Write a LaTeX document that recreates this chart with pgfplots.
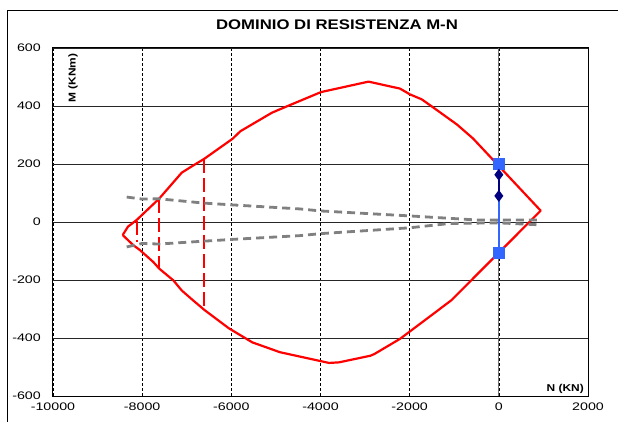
\documentclass[border=0pt]{standalone}
\usepackage{fontspec}
\setmainfont{Liberation Sans}
\newfontfamily\tickf{Liberation Sans}[FakeStretch=1.3]
\newfontfamily\titlef{Liberation Sans}[FakeStretch=1.2]
\newfontfamily\labf{Liberation Sans}[FakeStretch=1.2]
\usepackage{pgfplots}
\pgfplotsset{compat=1.18}
\definecolor{bluel}{RGB}{51,102,255}
\definecolor{navyd}{RGB}{0,0,128}
\definecolor{greyd}{RGB}{128,128,128}

\begin{document}
\begin{tikzpicture}
\useasboundingbox (-53bp,-26bp) rectangle (565bp,396bp);
\begin{axis}[
    scale only axis,
    width=535bp, height=348bp,
    at={(0,0)}, anchor=south west,
    xmin=-10000, xmax=2000,
    ymin=-600, ymax=600,
    xtick={-10000,-8000,...,2000},
    ytick={-600,-400,...,600},
    scaled x ticks=false, scaled y ticks=false,
    major tick length=0pt,
    axis line style={black, line width=1bp},
    xmajorgrids=true, ymajorgrids=true,
    x grid style={black, line width=0.6bp, dash pattern=on 3bp off 2bp},
    y grid style={black!85, line width=0.6bp},
    extra x ticks={0},
    extra x tick labels={},
    extra x tick style={grid=major, x grid style={black!55, line width=1bp, solid}},
    /pgf/number format/.cd, 1000 sep={}, assume math mode=true, /pgfplots/.cd,
    xticklabel style={font=\tickf\fontsize{11}{13}\selectfont, anchor=north, inner sep=0pt, yshift=-7bp},
    yticklabel style={font=\tickf\fontsize{11}{13}\selectfont, anchor=east, inner sep=0pt, xshift=-12bp},
]

% dominio resistente
\addplot[red, line width=2.2bp, line join=round] coordinates {
(-8437,-45) (-8318,-16) (-8123,7) (-7622,80) (-7113,170) (-6927,188)
(-6606,218) (-5972,287) (-5797,313) (-5088,377) (-4735,400) (-3988,448)
(-2923,484) (-2217,460) (-1993,440) (-1730,423) (-1463,394) (-938,336)
(-579,288) (939,39) (-1066,-270) (-1818,-357) (-1993,-377) (-2217,-403)
(-2789,-455) (-2878,-461) (-3585,-484) (-3809,-486) (-4910,-449)
(-5530,-415) (-6061,-366) (-6590,-305) (-6860,-270) (-7113,-236)
(-7302,-201) (-7616,-161) (-7750,-138) (-8049,-97) (-8199,-80) (-8437,-45)
};

% limiti verticali
\addplot[red, line width=2.2bp, dash pattern=on 14bp off 5bp] coordinates {(-8123,5) (-8123,-70)};
\addplot[red, line width=2.2bp, dash pattern=on 14bp off 5bp] coordinates {(-7622,80) (-7622,-161)};
\addplot[red, line width=2.2bp, dash pattern=on 14bp off 5bp] coordinates {(-6606,218) (-6606,-305)};

% curve grigie
\addplot[greyd, line width=2.8bp, dash pattern=on 8bp off 5bp] coordinates {
(-8347,86) (-8000,79) (-7622,80) (-6606,65) (-5978,59) (-4460,45)
(-3988,38) (-2000,21) (-500,7) (940,7)
};
\addplot[greyd, line width=2.8bp, dash pattern=on 8bp off 5bp] coordinates {
(-8347,-86) (-8000,-74) (-7622,-76) (-6606,-66) (-5978,-60) (-4460,-47)
(-3988,-40) (-2000,-20) (-1100,-5) (0,-3) (940,-10)
};

% sollecitazioni
\addplot[bluel, line width=1.8bp, mark=square*, mark size=5bp, mark options={solid}] coordinates {(0,200) (0,-108)};
\addplot[navyd, line width=1.8bp, mark=diamond*, mark size=4.5bp, mark options={solid}] coordinates {(0,163) (0,90)};
\end{axis}

\draw[black, line width=0.9bp] (-46bp,-26bp) -- (-46bp,386bp) -- (565bp,386bp);
\node[font=\titlef\bfseries\fontsize{14}{16}\selectfont] at (284bp,371.5bp) {DOMINIO DI RESISTENZA M-N};
\node[font=\labf\bfseries\fontsize{10}{12}\selectfont, rotate=90] at (20bp,318bp) {M (KNm)};
\node[font=\labf\bfseries\fontsize{10}{12}\selectfont, anchor=base east, inner sep=0pt] at (531bp,5bp) {N (KN)};
\end{tikzpicture}
\end{document}
